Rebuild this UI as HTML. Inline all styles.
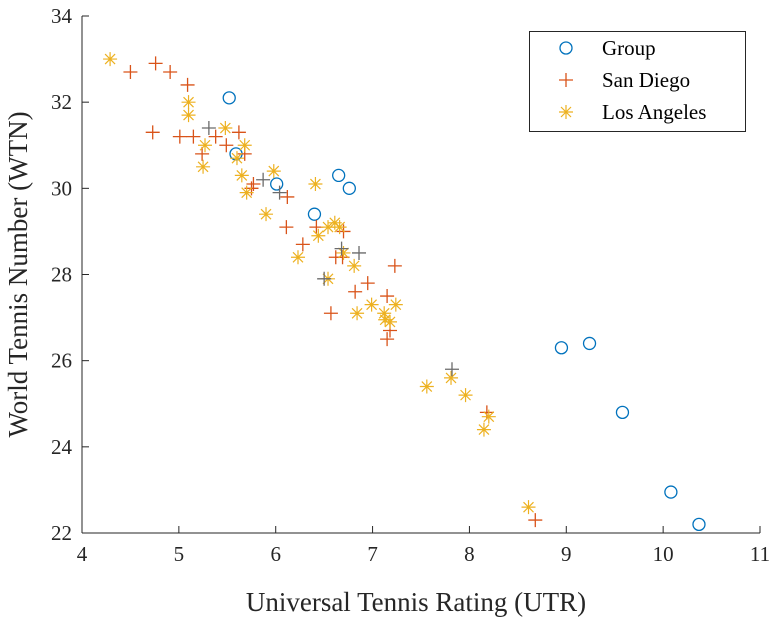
<!DOCTYPE html>
<html><head><meta charset="utf-8"><style>
html,body{margin:0;padding:0;background:#fff;}
svg{display:block;font-family:"Liberation Serif",serif;}
</style></head><body>
<svg id="c" width="776" height="620"></svg>
<script>
const groupX=[5.52,5.59,6.01,6.40,6.65,6.76,8.95,9.24,9.58,10.08,10.37];
const groupY=[32.1,30.8,30.1,29.4,30.3,30.0,26.3,26.4,24.8,22.95,22.2];
const sdX=[4.50,4.76,4.91,5.09,4.73,5.01,5.15,5.38,5.49,5.62,5.24,5.68,5.75,5.77,6.12,6.11,6.28,6.42,6.70,6.62,6.69,6.95,6.82,6.57,7.15,7.18,7.15,7.23,8.18,8.68];
const sdY=[32.7,32.9,32.7,32.4,31.3,31.2,31.2,31.2,31.0,31.3,30.8,30.8,30.0,30.1,29.8,29.1,28.7,29.1,29.0,28.4,28.4,27.8,27.6,27.1,27.5,26.7,26.5,28.2,24.8,22.3];
const grayX=[5.31,5.87,6.04,6.68,6.86,6.50,7.82];
const grayY=[31.4,30.2,29.9,28.6,28.5,27.9,25.8];
const laX=[4.29,5.10,5.10,5.48,5.68,5.27,5.25,5.60,5.65,5.70,5.98,5.90,6.41,6.23,6.44,6.54,6.61,6.66,6.70,6.81,6.54,6.84,6.99,7.24,7.12,7.13,7.18,7.56,7.81,7.96,8.15,8.20,8.61];
const laY=[33.0,32.0,31.7,31.4,31.0,31.0,30.5,30.7,30.3,29.9,30.4,29.4,30.1,28.4,28.9,29.1,29.2,29.1,28.5,28.2,27.9,27.1,27.3,27.3,27.1,26.95,26.9,25.4,25.6,25.2,24.4,24.7,22.6];
const xTicks=[4,5,6,7,8,9,10,11];
const yTicks=[22,24,26,28,30,32,34];
const NS="http://www.w3.org/2000/svg";
const svg=document.getElementById('c');
const L=82,R=760,T=16,B=533;
const sx=v=>L+(v-4)/7*(R-L);
const sy=v=>B-(v-22)/12*(B-T);
function mk(tag,attrs,parent){const e=document.createElementNS(NS,tag);for(const k in attrs)e.setAttribute(k,attrs[k]);(parent||svg).appendChild(e);return e;}
const axes=mk('g',{});


mk('line',{x1:L,y1:T,x2:L,y2:B,stroke:'#262626','stroke-width':1},axes);
mk('line',{x1:L,y1:B,x2:R,y2:B,stroke:'#262626','stroke-width':1},axes);
xTicks.forEach(t=>{
  mk('line',{x1:sx(t),y1:B,x2:sx(t),y2:B-7,stroke:'#262626'},axes);
  const tx=mk('text',{x:sx(t),y:B+28,'text-anchor':'middle','font-size':21,fill:'#262626'},axes);
  tx.textContent=t;
  
  
});
yTicks.forEach(t=>{
  mk('line',{x1:L,y1:sy(t),x2:L+7,y2:sy(t),stroke:'#262626'},axes);
  const tx=mk('text',{x:L-10,y:sy(t)+7,'text-anchor':'end','font-size':21,fill:'#262626'},axes);
  tx.textContent=t;
  
  
});
const xt=mk('text',{x:(L+R)/2-5,y:611,'text-anchor':'middle','font-size':27,fill:'#262626'});
xt.textContent='Universal Tennis Rating (UTR)';


const yt=mk('text',{x:0,y:0,'text-anchor':'middle','font-size':27,fill:'#262626',transform:`translate(27,${(T+B)/2}) rotate(-90)`});
yt.textContent='World Tennis Number (WTN)';


function circle(x,y,g){mk('circle',{cx:x,cy:y,r:6,fill:'none',stroke:'#0072BD','stroke-width':1.3},g);}
function plus(x,y,g,c){mk('path',{d:`M${x-7} ${y}H${x+7}M${x} ${y-7}V${y+7}`,stroke:c,'stroke-width':1.3,fill:'none'},g);}
function star(x,y,g){const c='#EDB120';mk('path',{d:`M${x-7} ${y}H${x+7}M${x} ${y-7}V${y+7}M${x-5} ${y-5}L${x+5} ${y+5}M${x-5} ${y+5}L${x+5} ${y-5}`,stroke:c,'stroke-width':1.2,fill:'none'},g);}
const gG=mk('g',{});
const gS=mk('g',{});
const gL=mk('g',{});
const gO=mk('g',{});
groupX.forEach((v,i)=>circle(sx(v),sy(groupY[i]),gG));
sdX.forEach((v,i)=>plus(sx(v),sy(sdY[i]),gS,'#D95319'));
grayX.forEach((v,i)=>plus(sx(v),sy(grayY[i]),gO,'#6b6b6b'));
laX.forEach((v,i)=>star(sx(v),sy(laY[i]),gL));
const lg=mk('g',{});


mk('rect',{x:529.5,y:31.5,width:216,height:100,fill:'#fff',stroke:'#262626'},lg);
const names=['Group','San Diego','Los Angeles'];
names.forEach((n,i)=>{
  const y=48+i*32;
  if(i===0)circle(566,y,lg);else if(i===1)plus(566,y,lg,'#D95319');else star(566,y,lg);
  const t=mk('text',{x:602,y:y+7,'font-size':21,fill:'#000'},lg);
  t.textContent=n;
  
  
});
</script>
</body></html>
